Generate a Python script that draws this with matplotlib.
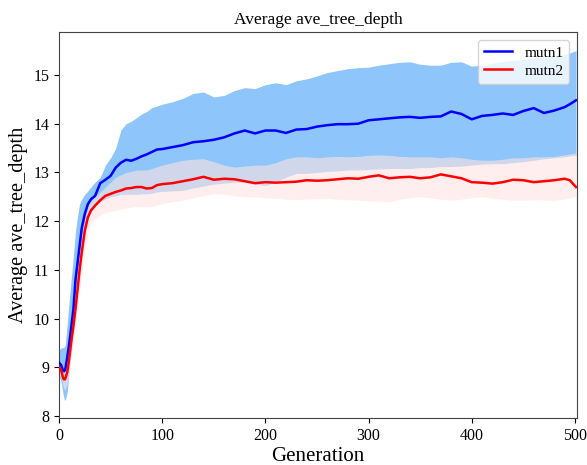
import matplotlib
matplotlib.use("Agg")
import matplotlib.pyplot as plt
import numpy as np

plt.rcParams['font.family'] = ['Liberation Serif', 'DejaVu Serif']

gens = [0, 2, 4, 5, 6, 8, 10, 12, 14, 16, 18, 20, 22, 25, 28, 31, 35,
        40, 45, 50, 55, 60, 65, 70, 75, 80, 85, 90, 95, 100,
        110, 120, 130, 140, 150, 160, 170, 180, 190, 200,
        210, 220, 230, 240, 250, 260, 270, 280, 290, 300,
        310, 320, 330, 340, 350, 360, 370, 380, 390, 400,
        410, 420, 430, 440, 450, 460, 470, 480, 490, 495, 501]

mutn1_mean = [9.10, 9.05, 8.93, 8.92, 8.95, 9.20, 9.50, 9.85, 10.20, 10.80, 11.15, 11.50, 11.85, 12.15, 12.35, 12.45, 12.52,
              12.78, 12.85, 12.93, 13.10, 13.20, 13.26, 13.24, 13.28, 13.33, 13.37, 13.42, 13.47, 13.48,
              13.52, 13.56, 13.62, 13.64, 13.67, 13.72, 13.80, 13.86, 13.80, 13.86,
              13.86, 13.81, 13.88, 13.89, 13.94, 13.97, 13.99, 13.99, 14.00, 14.07,
              14.09, 14.11, 14.13, 14.14, 14.12, 14.14, 14.15, 14.25, 14.20, 14.09,
              14.16, 14.18, 14.21, 14.18, 14.26, 14.32, 14.22, 14.27, 14.34, 14.40, 14.48]
mutn1_hi = [9.35, 9.40, 9.40, 9.42, 9.45, 9.90, 10.40, 10.85, 11.30, 11.80, 12.10, 12.36, 12.45, 12.55, 12.62, 12.70, 12.80,
            12.90, 13.15, 13.30, 13.50, 13.87, 14.00, 14.05, 14.12, 14.20, 14.25, 14.33, 14.36, 14.40,
            14.45, 14.52, 14.62, 14.65, 14.55, 14.58, 14.68, 14.74, 14.72, 14.80,
            14.84, 14.80, 14.88, 14.92, 14.98, 15.05, 15.09, 15.13, 15.15, 15.16,
            15.20, 15.23, 15.26, 15.27, 15.22, 15.20, 15.20, 15.26, 15.27, 15.18,
            15.20, 15.24, 15.28, 15.30, 15.32, 15.35, 15.36, 15.38, 15.42, 15.45, 15.50]
mutn1_lo = [8.85, 8.70, 8.45, 8.35, 8.32, 8.50, 8.95, 9.35, 9.75, 10.15, 10.60, 10.95, 11.30, 11.75, 12.05, 12.20, 12.30,
            12.40, 12.45, 12.50, 12.52, 12.55, 12.55, 12.55, 12.55, 12.56, 12.56, 12.57, 12.60, 12.61,
            12.62, 12.63, 12.68, 12.72, 12.76, 12.78, 12.80, 12.80, 12.76, 12.73,
            12.80, 12.90, 12.98, 12.98, 13.00, 13.02, 13.03, 13.05, 13.05, 13.06,
            13.07, 13.08, 13.08, 13.08, 13.10, 13.10, 13.12, 13.12, 13.13, 13.15,
            13.17, 13.18, 13.18, 13.20, 13.22, 13.25, 13.28, 13.30, 13.32, 13.34, 13.35]

mutn2_mean = [9.00, 8.95, 8.78, 8.75, 8.76, 8.90, 9.20, 9.55, 9.85, 10.20, 10.60, 11.00, 11.35, 11.80, 12.08, 12.22, 12.32,
              12.43, 12.52, 12.56, 12.60, 12.63, 12.67, 12.68, 12.70, 12.70, 12.67, 12.68, 12.74, 12.76,
              12.78, 12.82, 12.86, 12.91, 12.85, 12.87, 12.86, 12.82, 12.78, 12.80,
              12.79, 12.80, 12.81, 12.84, 12.83, 12.84, 12.86, 12.88, 12.87, 12.91,
              12.94, 12.88, 12.90, 12.91, 12.88, 12.90, 12.96, 12.92, 12.88, 12.80,
              12.79, 12.77, 12.80, 12.85, 12.84, 12.80, 12.82, 12.84, 12.87, 12.84, 12.70]
mutn2_hi = [9.15, 9.10, 9.00, 8.98, 9.00, 9.20, 9.55, 9.90, 10.25, 10.65, 11.05, 11.40, 11.70, 12.05, 12.30, 12.42, 12.50,
            12.60, 12.70, 12.80, 12.90, 12.95, 13.00, 13.02, 13.05, 13.05, 13.05, 13.08, 13.12, 13.15,
            13.20, 13.25, 13.27, 13.28, 13.22, 13.15, 13.11, 13.13, 13.15, 13.15,
            13.20, 13.28, 13.32, 13.32, 13.30, 13.32, 13.33, 13.32, 13.33, 13.35,
            13.36, 13.35, 13.33, 13.32, 13.32, 13.32, 13.30, 13.32, 13.30, 13.27,
            13.25, 13.25, 13.27, 13.30, 13.30, 13.32, 13.32, 13.33, 13.36, 13.38, 13.40]
mutn2_lo = [8.85, 8.80, 8.60, 8.55, 8.55, 8.65, 8.90, 9.20, 9.50, 9.85, 10.20, 10.60, 10.95, 11.45, 11.75, 11.95, 12.05,
            12.12, 12.18, 12.20, 12.22, 12.25, 12.27, 12.29, 12.30, 12.30, 12.29, 12.30, 12.33, 12.36,
            12.40, 12.43, 12.48, 12.52, 12.57, 12.55, 12.52, 12.50, 12.50, 12.48,
            12.47, 12.45, 12.44, 12.45, 12.46, 12.47, 12.45, 12.44, 12.43, 12.42,
            12.41, 12.40, 12.45, 12.48, 12.50, 12.48, 12.45, 12.43, 12.45, 12.48,
            12.50, 12.47, 12.45, 12.43, 12.43, 12.44, 12.43, 12.43, 12.45, 12.48, 12.50]

fig = plt.figure(figsize=(5.87, 4.65), dpi=100)
ax = fig.add_axes([0.1005, 0.101, 0.8825, 0.830])

ax.fill_between(gens, mutn1_lo, mutn1_hi, color='#8ec5fb', linewidth=0, zorder=1)
ax.fill_between(gens, mutn2_lo, mutn2_hi, color='mistyrose', alpha=0.6, linewidth=0, zorder=2)
ax.plot(gens, mutn1_mean, color='blue', lw=1.8, label='mutn1', zorder=3)
ax.plot(gens, mutn2_mean, color='red', lw=1.8, label='mutn2', zorder=3)

ax.set_xlim(0, 502)
ax.set_ylim(7.96, 15.88)
ax.set_xticks([0, 100, 200, 300, 400, 500])
ax.set_yticks([8, 9, 10, 11, 12, 13, 14, 15])
ax.tick_params(labelsize=11.5)
for s in ax.spines.values():
    s.set_color('#444444')

ax.set_title('Average ave_tree_depth', fontsize=12.5)
ax.set_xlabel('Generation', fontsize=15, labelpad=2)
ax.set_ylabel('Average ave_tree_depth', fontsize=14.6)
ax.legend(loc='upper right', fontsize=11, labelspacing=0.3, handlelength=1.8)

fig.savefig('out.png', dpi=100)
